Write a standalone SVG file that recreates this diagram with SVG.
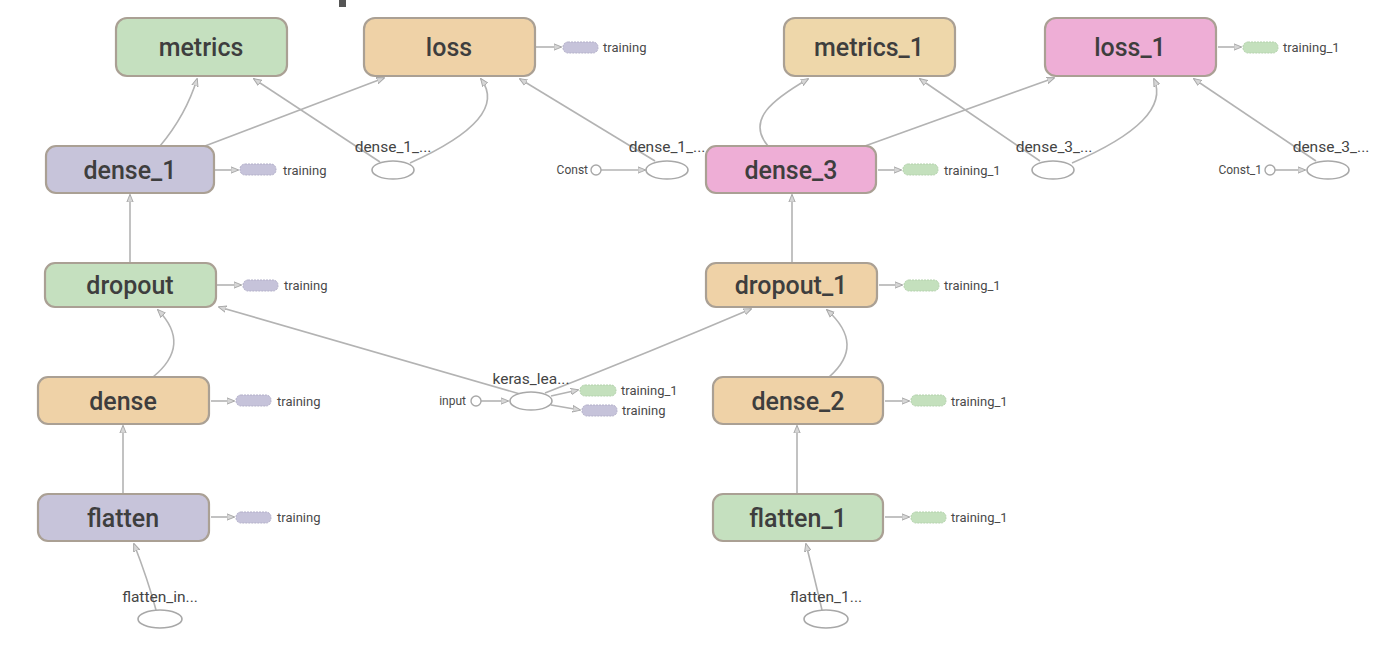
<svg xmlns="http://www.w3.org/2000/svg" width="1400" height="668" viewBox="0 0 1400 668">
<defs>
<marker id="ah" viewBox="0 0 10 10" refX="9" refY="5" markerWidth="8" markerHeight="8" orient="auto-start-reverse" markerUnits="userSpaceOnUse">
<path d="M0,1 L10,5 L0,9 z" fill="#d6d6d6" stroke="#a8a8a8" stroke-width="1.2"/>
</marker>
<style>
.edge{fill:none;stroke:#b3b3b3;stroke-width:1.6;marker-end:url(#ah)}
.node{stroke:#aaa094;stroke-width:2.2}
.green{fill:#c5e0bf}
.orange{fill:#efd2a7}
.purple{fill:#c7c4da}
.pink{fill:#eeaed6}
.yellow{fill:#eed7aa}
.nl{font-family:Roboto,"Liberation Sans",sans-serif;font-size:25px;font-weight:500;fill:#3e3e3e;text-anchor:middle}
.sl{font-family:Roboto,"Liberation Sans",sans-serif;font-size:15.5px;fill:#444;text-anchor:middle}
.pl{font-family:Roboto,"Liberation Sans",sans-serif;font-size:13px;fill:#4a4a4a}
.cl{font-family:Roboto,"Liberation Sans",sans-serif;font-size:12px;fill:#4a4a4a;text-anchor:end}
.ell{fill:#fff;stroke:#a8a8a8;stroke-width:1.6}
.pg{fill:#c4e0bd;stroke:#b4d2ad;stroke-width:1;stroke-dasharray:2 1}
.pp{fill:#c6c3da;stroke:#b3b0c9;stroke-width:1;stroke-dasharray:2 1}
.cc{fill:#fff;stroke:#a8a8a8;stroke-width:1.4}
</style>
</defs>
<rect width="1400" height="668" fill="#fff"/>
<rect x="339" y="0" width="7" height="7" fill="#555"/>

<g id="connectors">
<path class="edge" d="M156,610 Q148,580 134,544"/>
<path class="edge" d="M123,494 L123,426"/>
<path class="edge" d="M153,377 Q192,345 158,310"/>
<path class="edge" d="M130,263 L130,195"/>
<path class="edge" d="M520,394 L219,307"/>
<path class="edge" d="M545,393 Q650,352 751,309"/>
<path class="edge" d="M481,401 L508,401"/>
<path class="edge" d="M551,396 L578,390"/>
<path class="edge" d="M551,405 L580,410"/>
<path class="edge" d="M822,610 Q815,580 806,544"/>
<path class="edge" d="M797,494 L797,426"/>
<path class="edge" d="M829,377 Q866,345 827,310"/>
<path class="edge" d="M792,263 L792,195"/>
<path class="edge" d="M160,146 Q186,115 197,79"/>
<path class="edge" d="M205,146 L384,78"/>
<path class="edge" d="M380,162 L254,79"/>
<path class="edge" d="M410,163 Q510,118 481,79"/>
<path class="edge" d="M601,170 L645,170"/>
<path class="edge" d="M655,161 L520,79"/>
<path class="edge" d="M768,146 C746,120 772,100 808,79"/>
<path class="edge" d="M865,146 L1054,78"/>
<path class="edge" d="M1040,161 L920,79"/>
<path class="edge" d="M1072,163 Q1172,120 1154,79"/>
<path class="edge" d="M1275,170 L1305,170"/>
<path class="edge" d="M1316,161 L1194,79"/>
<path class="edge" d="M536,47 L561,47"/>
<path class="edge" d="M215,170 L238,170"/>
<path class="edge" d="M217,285 L241,285"/>
<path class="edge" d="M211,401 L234,401"/>
<path class="edge" d="M211,517 L234,517"/>
<path class="edge" d="M878,170 L901,170"/>
<path class="edge" d="M1218,47 L1241,47"/>
<path class="edge" d="M879,285 L902,285"/>
<path class="edge" d="M885,401 L909,401"/>
<path class="edge" d="M885,517 L909,517"/>
</g>

<g id="pill-loss-training"><rect class="pp" x="563" y="42" width="35" height="11" rx="5"/><text class="pl" x="603" y="52">training</text></g>
<g id="pill-dense_1-training"><rect class="pp" x="240" y="164" width="36" height="11" rx="5"/><text class="pl" x="283" y="175">training</text></g>
<g id="pill-dropout-training"><rect class="pp" x="243" y="280" width="35" height="11" rx="5"/><text class="pl" x="284" y="290">training</text></g>
<g id="pill-dense-training"><rect class="pp" x="236" y="395" width="35" height="11" rx="5"/><text class="pl" x="277" y="406">training</text></g>
<g id="pill-flatten-training"><rect class="pp" x="236" y="512" width="35" height="11" rx="5"/><text class="pl" x="277" y="522">training</text></g>
<g id="pill-dense_3-training_1"><rect class="pg" x="903" y="164" width="35" height="11" rx="5"/><text class="pl" x="944" y="175">training_1</text></g>
<g id="pill-loss_1-training_1"><rect class="pg" x="1243" y="42" width="35" height="11" rx="5"/><text class="pl" x="1283" y="52">training_1</text></g>
<g id="pill-dropout_1-training_1"><rect class="pg" x="904" y="280" width="35" height="11" rx="5"/><text class="pl" x="944" y="290">training_1</text></g>
<g id="pill-dense_2-training_1"><rect class="pg" x="911" y="395" width="35" height="11" rx="5"/><text class="pl" x="951" y="406">training_1</text></g>
<g id="pill-flatten_1-training_1"><rect class="pg" x="911" y="512" width="35" height="11" rx="5"/><text class="pl" x="951" y="522">training_1</text></g>
<g id="pill-keras-training_1"><rect class="pg" x="580" y="385" width="36" height="11" rx="5"/><text class="pl" x="621" y="395">training_1</text></g>
<g id="pill-keras-training"><rect class="pp" x="582" y="405" width="35" height="11" rx="5"/><text class="pl" x="622" y="415">training</text></g>

<g id="dense_1_a"><ellipse class="ell" cx="393" cy="170" rx="21" ry="9"/><text class="sl" x="393" y="152">dense_1_...</text></g>
<g id="dense_1_b"><ellipse class="ell" cx="667" cy="170" rx="21" ry="9"/><text class="sl" x="667" y="152">dense_1_...</text></g>
<g id="const"><circle class="cc" cx="596" cy="170" r="5"/><text class="cl" x="588" y="174">Const</text></g>
<g id="dense_3_a"><ellipse class="ell" cx="1053" cy="170" rx="21" ry="9"/><text class="sl" x="1054" y="152">dense_3_...</text></g>
<g id="dense_3_b"><ellipse class="ell" cx="1328" cy="170" rx="21" ry="9"/><text class="sl" x="1331" y="152">dense_3_...</text></g>
<g id="const_1"><circle class="cc" cx="1270" cy="170" r="5"/><text class="cl" x="1262" y="174">Const_1</text></g>
<g id="keras_lea"><ellipse class="ell" cx="531" cy="401" rx="21" ry="9"/><text class="sl" x="531" y="384">keras_lea...</text></g>
<g id="input"><circle class="cc" cx="476" cy="401" r="5"/><text class="cl" x="466" y="405">input</text></g>
<g id="flatten_in"><ellipse class="ell" cx="160" cy="619" rx="22" ry="9"/><text class="sl" x="160" y="602">flatten_in...</text></g>
<g id="flatten_1_in"><ellipse class="ell" cx="826" cy="619" rx="22" ry="9"/><text class="sl" x="826" y="602">flatten_1...</text></g>

<g id="metrics"><rect class="node green" x="116" y="18" width="171" height="58" rx="11"/><text class="nl" x="201" y="56">metrics</text></g>
<g id="loss"><rect class="node orange" x="364" y="18" width="171" height="58" rx="11"/><text class="nl" x="449" y="56">loss</text></g>
<g id="metrics_1"><rect class="node yellow" x="784" y="18" width="171" height="58" rx="11"/><text class="nl" x="869" y="56">metrics_1</text></g>
<g id="loss_1"><rect class="node pink" x="1045" y="18" width="171" height="58" rx="11"/><text class="nl" x="1130" y="56">loss_1</text></g>
<g id="dense_1"><rect class="node purple" x="46" y="146" width="168" height="47" rx="10"/><text class="nl" x="130" y="179">dense_1</text></g>
<g id="dense_3"><rect class="node pink" x="706" y="146" width="170" height="47" rx="10"/><text class="nl" x="791" y="179">dense_3</text></g>
<g id="dropout"><rect class="node green" x="45" y="263" width="171" height="44" rx="10"/><text class="nl" x="130" y="294">dropout</text></g>
<g id="dropout_1"><rect class="node orange" x="706" y="263" width="171" height="44" rx="10"/><text class="nl" x="791" y="294">dropout_1</text></g>
<g id="dense"><rect class="node orange" x="38" y="377" width="171" height="47" rx="10"/><text class="nl" x="123" y="410">dense</text></g>
<g id="dense_2"><rect class="node orange" x="713" y="377" width="170" height="47" rx="10"/><text class="nl" x="798" y="410">dense_2</text></g>
<g id="flatten"><rect class="node purple" x="38" y="494" width="171" height="47" rx="10"/><text class="nl" x="123" y="527">flatten</text></g>
<g id="flatten_1"><rect class="node green" x="713" y="494" width="170" height="47" rx="10"/><text class="nl" x="798" y="527">flatten_1</text></g>
</svg>
